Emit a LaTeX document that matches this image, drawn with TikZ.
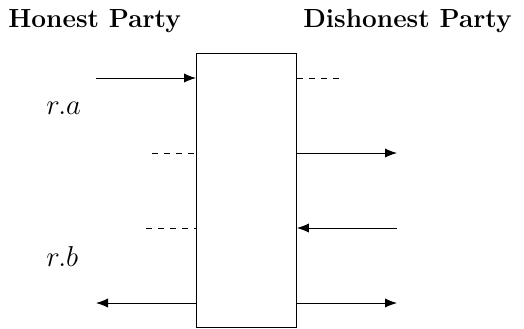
\documentclass[tikz,border=0pt]{standalone}
\usetikzlibrary{arrows.meta}
\begin{document}
\begin{tikzpicture}[x=0.5pt,y=-0.5pt,
  line/.style={line width=0.45pt},
  arr/.style={line, -{Latex[length=6pt,width=4.6pt]}},
  dsh/.style={line, dashed, dash pattern=on 3pt off 3pt},
  party/.style={font=\fontsize{13.1}{16}\selectfont\bfseries, inner sep=0pt},
  lbl/.style={font=\fontsize{13.4}{16}\selectfont, inner sep=0pt}]
\useasboundingbox (0,0) rectangle (524,328);
\node[draw, line, minimum width=50pt, minimum height=137pt, inner sep=0pt, anchor=north west] (box) at (196,53) {};
\node[party, anchor=base west] (hp) at (8,27) {Honest Party};
\node[party, anchor=base east] (dp) at (512,27) {Dishonest Party};
\node[lbl, anchor=base west] (ra) at (46,114) {$r.a$};
\node[lbl, anchor=base west] (rb) at (46,266) {$r.b$};
\coordinate (l1) at (96,78);
\coordinate (r1) at (340,78);
\coordinate (l2) at (152,153);
\coordinate (r2) at (397,153);
\coordinate (l3) at (146,228);
\coordinate (r3) at (397,228);
\coordinate (l4) at (96,303);
\coordinate (r4) at (397,303);
\draw[arr] (l1) -- (box.west |- l1);
\draw[dsh] (box.east |- r1) -- (r1);
\draw[dsh] (l2) -- (box.west |- l2);
\draw[arr] (box.east |- r2) -- (r2);
\draw[dsh] (l3) -- (box.west |- l3);
\draw[arr] (r3) -- (box.east |- r3);
\draw[arr] (box.west |- l4) -- (l4);
\draw[arr] (box.east |- r4) -- (r4);
\end{tikzpicture}
\end{document}
